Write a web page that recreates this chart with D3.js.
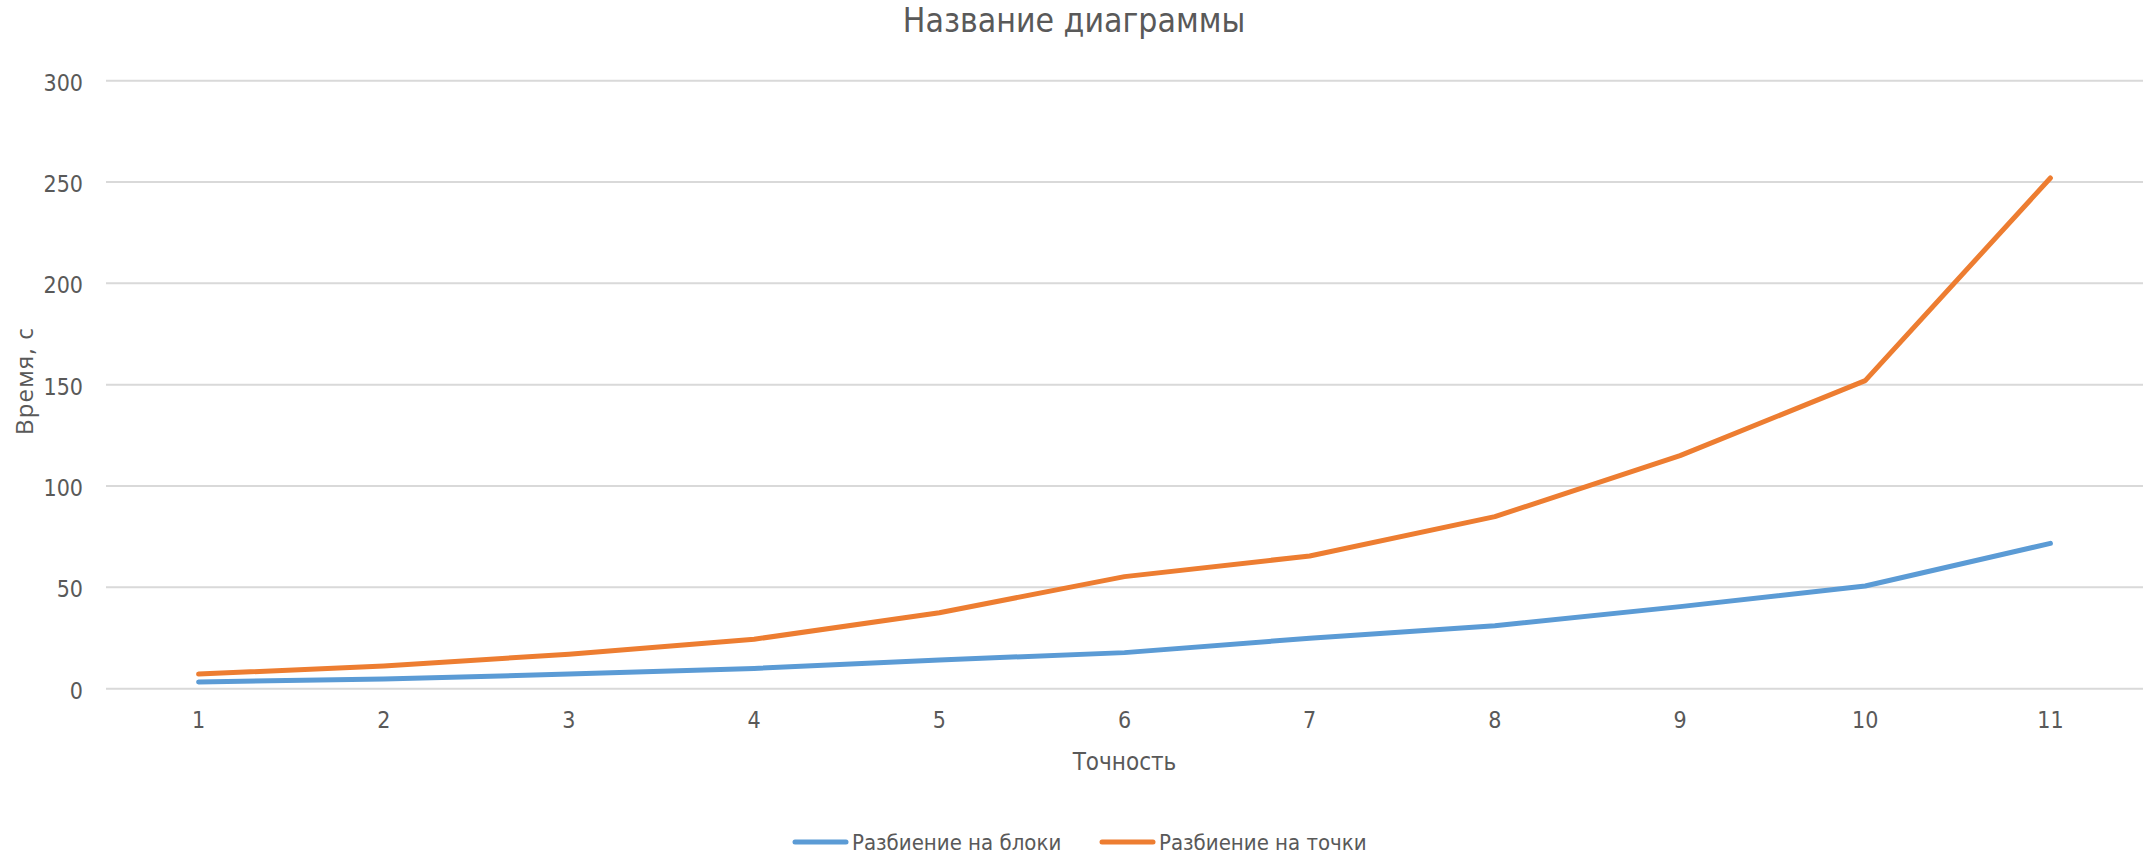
<!DOCTYPE html>
<html>
<head>
    <title>Название диаграммы</title>
    <meta charset="utf-8">
    <script src="https://cdn.jsdelivr.net/npm/d3@7"></script>
    <style>
        body { margin: 0; background: #fff; }
        svg { display: block; }
        .narrow { font-family: "Liberation Sans Narrow", "DejaVu Sans Condensed", "Roboto", sans-serif; fill: #595959; }
        .grid line { stroke: #d9d9d9; stroke-width: 2px; }
        path.series { fill: none; stroke-width: 5px; stroke-linejoin: round; stroke-linecap: round; }
    </style>
</head>
<body>
    <svg width="2148" height="853"></svg>
    <script>
        // chart values
        var categories = ["1", "2", "3", "4", "5", "6", "7", "8", "9", "10", "11"];
        var blocksValues = [3.3, 4.8, 7.2, 10.0, 14.2, 17.8, 24.9, 31.1, 40.5, 50.7, 71.7];
        var pointsValues = [7.2, 11.2, 17.0, 24.4, 37.5, 55.3, 65.5, 84.9, 115, 152, 252];
        var yTicks = [0, 50, 100, 150, 200, 250, 300];
        var seriesNames = ["Разбиение на блоки", "Разбиение на точки"];
        var seriesColors = ["#5b9bd5", "#ed7d31"];

        var svg = d3.select("svg");
        var plotLeft = 106, plotRight = 2143, plotTop = 80.7, plotBottom = 688.7;

        var x = d3.scalePoint().domain(categories).range([plotLeft, plotRight]).padding(0.5);
        var y = d3.scaleLinear().domain([0, 300]).range([plotBottom, plotTop]);

        // gridlines
        svg.append("g").attr("class", "grid")
            .selectAll("line").data(yTicks).enter().append("line")
            .attr("x1", plotLeft).attr("x2", plotRight)
            .attr("y1", function (d) { return y(d); })
            .attr("y2", function (d) { return y(d); });

        // y tick labels
        svg.append("g").selectAll("text").data(yTicks).enter().append("text")
            .attr("class", "narrow")
            .attr("x", 83)
            .attr("y", function (d) { return y(d) + 10; })
            .attr("text-anchor", "end")
            .style("font-size", "23px")
            .text(function (d) { return d; });

        // x tick labels
        svg.append("g").selectAll("text").data(categories).enter().append("text")
            .attr("class", "narrow")
            .attr("x", function (d) { return x(d); })
            .attr("y", 728)
            .attr("text-anchor", "middle")
            .style("font-size", "23px")
            .text(function (d) { return d; });

        var line = d3.line()
            .x(function (d, i) { return x(categories[i]); })
            .y(function (d) { return y(d); });

        [blocksValues, pointsValues].forEach(function (vals, i) {
            svg.append("path")
                .datum(vals)
                .attr("class", "series")
                .attr("stroke", seriesColors[i])
                .attr("d", line);
        });

        // titles
        svg.append("text").attr("class", "narrow")
            .attr("x", 1074).attr("y", 32)
            .attr("text-anchor", "middle")
            .style("font-size", "33.5px")
            .text("Название диаграммы");

        svg.append("text").attr("class", "narrow")
            .attr("x", (plotLeft + plotRight) / 2).attr("y", 770)
            .attr("text-anchor", "middle")
            .style("font-size", "24px")
            .text("Точность");

        svg.append("text")
            .attr("transform", "translate(33,381) rotate(-90)")
            .attr("text-anchor", "middle")
            .style("font-family", "'Open Sans', sans-serif")
            .style("font-size", "24px")
            .style("letter-spacing", "1.2px")
            .style("fill", "#595959")
            .text("Время, с");

        // legend
        var legendX = [793, 1100];
        var legend = svg.append("g").selectAll("g").data(seriesNames).enter().append("g")
            .attr("transform", function (d, i) { return "translate(" + legendX[i] + ",842)"; });
        legend.append("line")
            .attr("x1", 2).attr("x2", 53).attr("y1", 0).attr("y2", 0)
            .attr("stroke", function (d, i) { return seriesColors[i]; })
            .attr("stroke-width", 5).attr("stroke-linecap", "round");
        legend.append("text").attr("class", "narrow")
            .attr("x", 59).attr("y", 7.5)
            .style("font-size", "22px")
            .text(function (d) { return d; });
    </script>
</body>
</html>
